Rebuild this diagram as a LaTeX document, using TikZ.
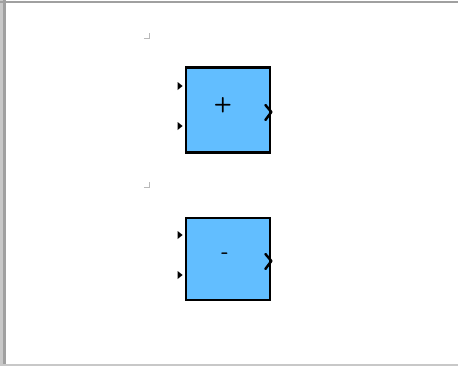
\documentclass[tikz,border=0pt]{standalone}
\usepackage{tikz}
\usetikzlibrary{calc}
\definecolor{blockblue}{RGB}{98,190,255}
\definecolor{framedark}{RGB}{160,160,160}
\definecolor{framelight}{RGB}{200,200,200}
\definecolor{markgray}{RGB}{185,185,185}

\begin{document}
\begin{tikzpicture}[x=0.02cm, y=-0.02cm,
    block/.style={draw=black, fill=blockblue, line width=1.6pt,
                  minimum width=1.68cm, minimum height=1.7cm, inner sep=0pt},
    sign/.style={font=\sffamily\bfseries\large},
    port/.style={fill=black},
    outport/.style={line width=1.4pt, line cap=round, line join=round},
    corner/.style={draw=markgray, line width=0.4pt}
]
\useasboundingbox (0,0) rectangle (458,366);
% window frame
\fill[framelight] (0,0) rectangle (3,366);
\fill[framedark] (3,0) rectangle (6,366);
\fill[framedark] (0,1) rectangle (458,3);
\fill[framelight] (0,364) rectangle (458,366);

% sum block
\node[block] (sum) at (228,110) {};
\node[sign] (plus) at (223,105) {+};
% difference block
\node[block, minimum height=1.64cm] (diff) at (228,259) {};
\node[sign] (minus) at (225,256) {-};

% corner marks above the blocks
\draw[corner] (144,38) -- (149,38) -- (149,33);
\draw[corner] (144,187) -- (149,187) -- (149,182);

% input and output ports
\foreach \blk in {sum, diff} {
  \fill[port] ($(\blk.west)+(-7,-28)$) -- ++(5,4) -- ++(-5,4) -- cycle;
  \fill[port] ($(\blk.west)+(-7,12)$) -- ++(5,4) -- ++(-5,4) -- cycle;
  \draw[outport] ($(\blk.east)+(-6,-5)$) -- ++(6,7) -- ++(-6,8);
}
\end{tikzpicture}
\end{document}
